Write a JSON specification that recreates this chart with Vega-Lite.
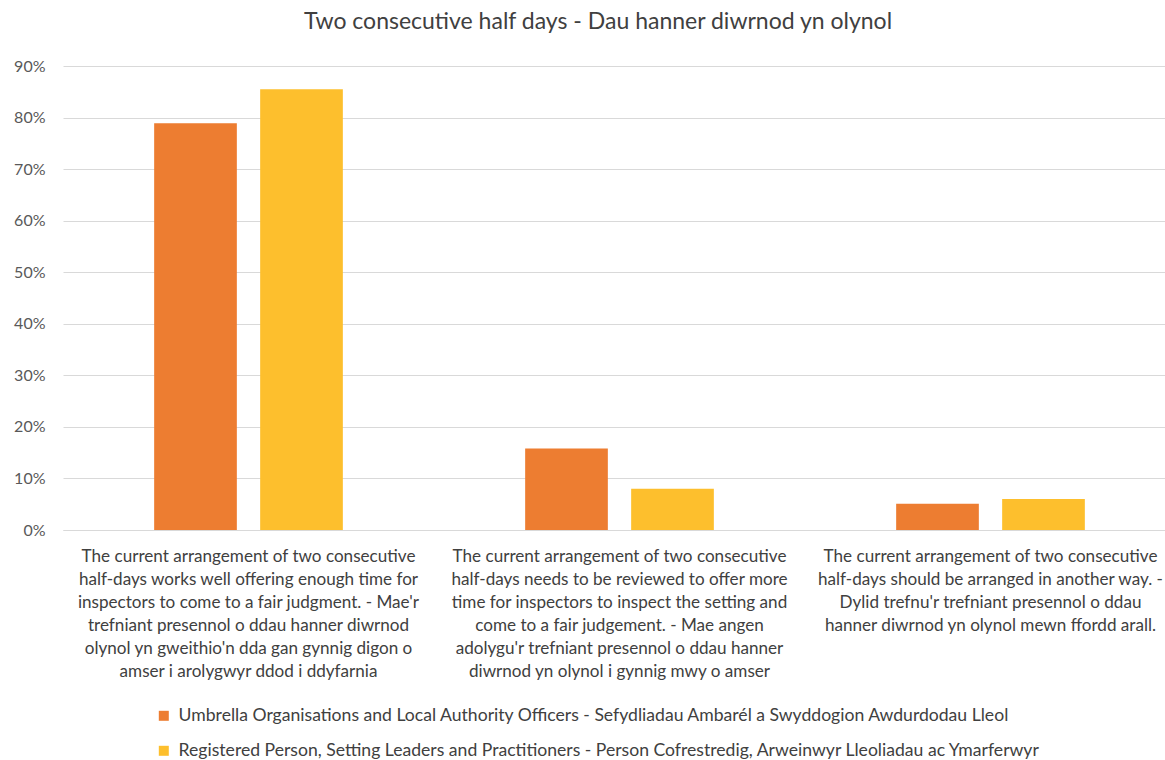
{
  "$schema": "https://vega.github.io/schema/vega-lite/v6.json",
  "autosize": {"type": "none"},
  "padding": {"left": 63, "top": 66, "right": 0, "bottom": 230},
  "width": 1102,
  "height": 464,
  "background": "white",
  "title": {
    "text": "Two consecutive half days - Dau hanner diwrnod yn olynol",
    "font": "Lato",
    "fontSize": 23,
    "fontWeight": "normal",
    "color": "#404040",
    "anchor": "middle",
    "frame": "group",
    "dx": -16,
    "offset": 24
  },
  "data": {
    "values": [
      {"category": "The current arrangement of two consecutive\nhalf-days works well offering enough time for\ninspectors to come to a fair judgment. - Mae'r\ntrefniant presennol o ddau hanner diwrnod\nolynol yn gweithio'n dda gan gynnig digon o\namser i arolygwyr ddod i ddyfarnia", "group": "Umbrella Organisations and Local Authority Officers - Sefydliadau Ambarél a Swyddogion Awdurdodau Lleol", "value": 0.789},
      {"category": "The current arrangement of two consecutive\nhalf-days works well offering enough time for\ninspectors to come to a fair judgment. - Mae'r\ntrefniant presennol o ddau hanner diwrnod\nolynol yn gweithio'n dda gan gynnig digon o\namser i arolygwyr ddod i ddyfarnia", "group": "Registered Person, Setting Leaders and Practitioners - Person Cofrestredig, Arweinwyr Lleoliadau ac Ymarferwyr", "value": 0.855},
      {"category": "The current arrangement of two consecutive\nhalf-days needs to be reviewed to offer more\ntime for inspectors to inspect the setting and\ncome to a fair judgement. - Mae angen\nadolygu'r trefniant presennol o ddau hanner\ndiwrnod yn olynol i gynnig mwy o amser", "group": "Umbrella Organisations and Local Authority Officers - Sefydliadau Ambarél a Swyddogion Awdurdodau Lleol", "value": 0.158},
      {"category": "The current arrangement of two consecutive\nhalf-days needs to be reviewed to offer more\ntime for inspectors to inspect the setting and\ncome to a fair judgement. - Mae angen\nadolygu'r trefniant presennol o ddau hanner\ndiwrnod yn olynol i gynnig mwy o amser", "group": "Registered Person, Setting Leaders and Practitioners - Person Cofrestredig, Arweinwyr Lleoliadau ac Ymarferwyr", "value": 0.08},
      {"category": "The current arrangement of two consecutive\nhalf-days should be arranged in another way. -\nDylid trefnu'r trefniant presennol o ddau\nhanner diwrnod yn olynol mewn ffordd arall.", "group": "Umbrella Organisations and Local Authority Officers - Sefydliadau Ambarél a Swyddogion Awdurdodau Lleol", "value": 0.051},
      {"category": "The current arrangement of two consecutive\nhalf-days should be arranged in another way. -\nDylid trefnu'r trefniant presennol o ddau\nhanner diwrnod yn olynol mewn ffordd arall.", "group": "Registered Person, Setting Leaders and Practitioners - Person Cofrestredig, Arweinwyr Lleoliadau ac Ymarferwyr", "value": 0.06}
    ]
  },
  "mark": {"type": "bar"},
  "encoding": {
    "x": {
      "field": "category",
      "type": "nominal",
      "sort": null,
      "scale": {"paddingInner": 0, "paddingOuter": 0, "range": [0, 1113]},
      "axis": {
        "title": null,
        "labelAngle": 0,
        "labelExpr": "split(datum.label, '\\n')",
        "labelFont": "Lato",
        "labelFontSize": 17.1,
        "labelColor": "#404040",
        "labelLineHeight": 23,
        "labelBaseline": "top",
        "labelPadding": 17,
        "labelLimit": 0,
        "ticks": false,
        "domainColor": "#D9D9D9",
        "domainWidth": 1
      }
    },
    "xOffset": {
      "field": "group",
      "type": "nominal",
      "sort": null,
      "scale": {"paddingInner": 0.22, "paddingOuter": 0.86}
    },
    "y": {
      "field": "value",
      "type": "quantitative",
      "scale": {"domain": [0, 0.9], "nice": false},
      "axis": {
        "title": null,
        "format": ".0%",
        "values": [0, 0.1, 0.2, 0.3, 0.4, 0.5, 0.6, 0.7, 0.8, 0.9],
        "labelFont": "Lato",
        "labelFontSize": 16,
        "labelColor": "#595959",
        "labelPadding": 18,
        "ticks": false,
        "domain": false,
        "gridColor": "#D9D9D9",
        "gridWidth": 1
      }
    },
    "color": {
      "field": "group",
      "type": "nominal",
      "sort": null,
      "scale": {"range": ["#ED7D31", "#FDBF2D"]},
      "legend": {
        "title": null,
        "orient": "none",
        "legendX": 92,
        "legendY": 641,
        "direction": "vertical",
        "symbolType": "square",
        "symbolSize": 100,
        "symbolStrokeWidth": 0,
        "labelFont": "Lato",
        "labelFontSize": 17.6,
        "labelColor": "#404040",
        "labelLimit": 0,
        "rowPadding": 16,
        "labelOffset": 6
      }
    }
  },
  "config": {
    "view": {"stroke": null}
  }
}
